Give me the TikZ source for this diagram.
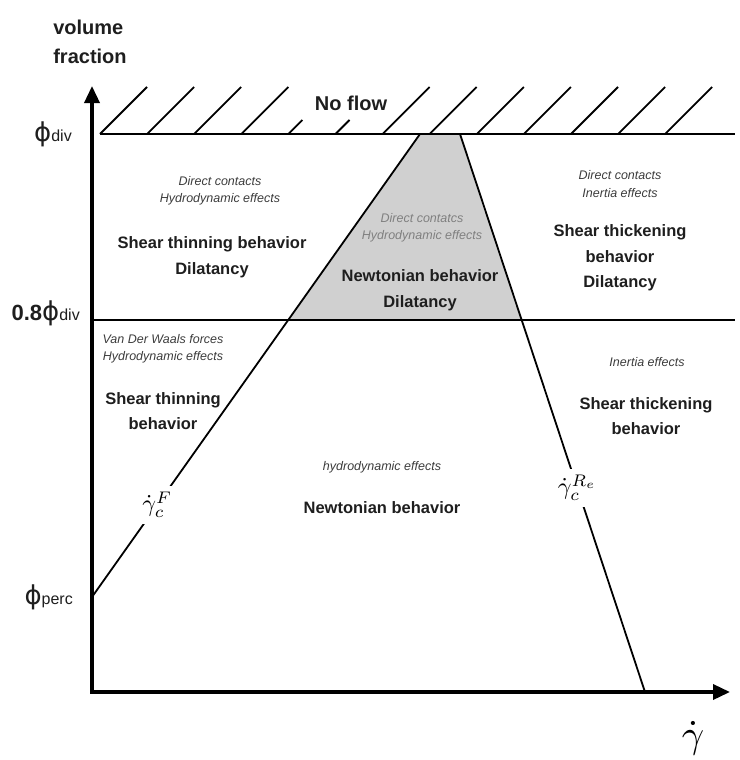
\documentclass[tikz,border=0pt]{standalone}
\usepackage{fontspec}
\setmainfont{Liberation Sans}
\newfontfamily\phifont{DejaVu Sans}
\usetikzlibrary{arrows.meta,calc}
\definecolor{txtdark}{HTML}{1E1E1E}
\definecolor{txtsoft}{HTML}{3C3C3C}
\definecolor{trapgray}{HTML}{D0D0D0}
\tikzset{
  axis/.style={line width=3.5pt,line join=miter,{Triangle[length=17pt,width=15pt]}-{Triangle[length=17pt,width=15pt]}},
  bound/.style={line width=1.8pt},
  hatch/.style={line width=1.8pt},
  note/.style={font=\fontsize{12.5}{17.5}\selectfont\itshape,text=txtsoft,align=center},
  regime/.style={font=\fontsize{16.5}{25.5}\selectfont\bfseries,text=txtdark,align=center},
  philbl/.style={font=\fontsize{16}{16}\selectfont,text=txtdark,anchor=east,inner sep=0pt},
  ratelbl/.style={fill=white,inner xsep=3pt,inner ysep=6pt}
}
\newcommand{\phisym}{{\phifont\fontsize{26}{26}\selectfont ϕ}}
\newcommand{\bigmath}[2]{\scalebox{#1}{$#2$}}
\begin{document}
\begin{tikzpicture}[x=1pt,y=-1pt]
\useasboundingbox (0,0) rectangle (739,760);
\coordinate (O) at (92,692);
\coordinate (ytip) at (92,86);
\coordinate (xtip) at (730,692);
\coordinate (divL) at (100,134);
\coordinate (divR) at (735,134);
\coordinate (lowL) at (92,320);
\coordinate (lowR) at (735,320);
\coordinate (perc) at (92,597);
\coordinate (Ftop) at (420,134);
\coordinate (Rtop) at (460,134);
\coordinate (Rbot) at (645,692);
\coordinate (Fmid) at ($(perc)!0.598!(Ftop)$);
\coordinate (Rmid) at ($(Rtop)!0.3333!(Rbot)$);
\fill[trapgray] (Ftop) -- (Rtop) -- (Rmid) -- (Fmid) -- cycle;
\draw[axis] (ytip) -- (O) -- (xtip);
\draw[bound] (divL) -- (divR);
\draw[bound] (lowL) -- (lowR);
\foreach \i/\h in {0/47,1/47,2/47,3/47,4/14,5/14,6/47,7/47,8/47,9/47,10/47,11/47,12/47}{\draw[hatch] (100+47.1*\i,134) -- ++(\h,-\h);}
\draw[bound] (perc) -- (Ftop) node[ratelbl,pos=0.199] (gF) {\bigmath{2.4}{\dot\gamma_c^{F}}};
\draw[bound] (Rtop) -- (Rbot) node[ratelbl,pos=0.634] (gR) {\bigmath{2.4}{\dot\gamma_c^{R_e}}};
% axis names
\node[font=\fontsize{20}{29}\selectfont\bfseries,text=txtdark,align=left] (yname) at (90,42) {volume\\fraction};
\node (xname) at (693,738) {\bigmath{3.9}{\dot\gamma}};
\node[font=\fontsize{20}{20}\selectfont\bfseries,text=txtdark] (noflow) at (351,103) {No flow};
\node[philbl] (ldiv) at (72,134) {\phisym div};
\node[philbl] (lfrac) at (80,313) {{\bfseries\fontsize{22}{22}\selectfont 0.8}\phisym div};
\node[philbl] (lperc) at (73,597) {\phisym perc};
% regimes
\node[note] (ulN) at (220,191) {Direct contacts\\Hydrodynamic effects};
\node[regime] (ulR) at (212,257) {Shear thinning behavior\\Dilatancy};
\node[note,text=gray] (tzN) at (422,228) {Direct contatcs\\Hydrodynamic effects};
\node[regime] (tzR) at (420,290) {Newtonian behavior\\Dilatancy};
\node[note] (urN) at (620,184) {Direct contacts\\Inertia effects};
\node[regime] (urR) at (620,258) {Shear thickening\\behavior\\Dilatancy};
\node[note] (llN) at (163,349) {Van Der Waals forces\\Hydrodynamic effects};
\node[regime] (llR) at (163,411) {Shear thinning\\behavior};
\node[note] (lmN) at (382,467) {hydrodynamic effects};
\node[regime] (lmR) at (382,508) {Newtonian behavior};
\node[note] (lrN) at (647,362) {Inertia effects};
\node[regime] (lrR) at (646,416) {Shear thickening\\behavior};
\end{tikzpicture}
\end{document}
